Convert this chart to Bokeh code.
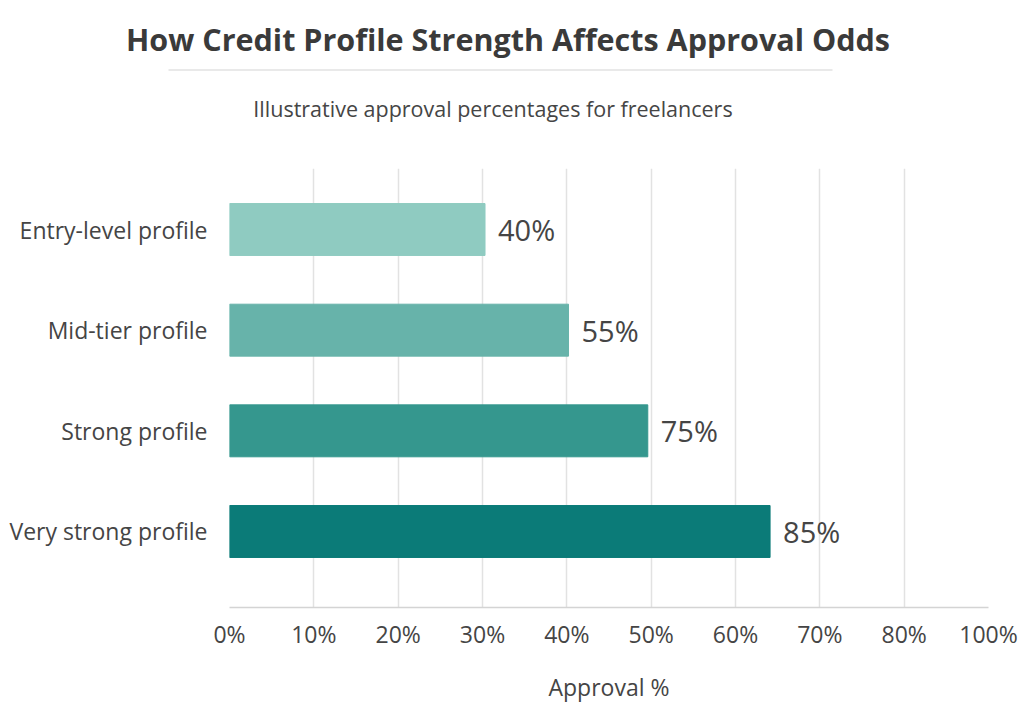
from bokeh.plotting import figure
from bokeh.layouts import column
from bokeh.models import Range1d, FixedTicker, ColumnDataSource
from bokeh.core.properties import value
from bokeh.embed import file_html
from bokeh.resources import INLINE

# ---- data ----
categories = ["Entry-level profile", "Mid-tier profile", "Strong profile", "Very strong profile"]
approval_labels = [40, 55, 75, 85]            # printed value labels (%)
bar_ends = [3.03, 4.02, 4.96, 6.41]           # where each bar ends, in axis-tick steps
tick_labels = ["0%", "10%", "20%", "30%", "40%", "50%", "60%", "70%", "80%", "100%"]
bar_colors = ["#8fcbc1", "#67b3aa", "#35978e", "#0b7b78"]

title_text = "How Credit Profile Strength Affects Approval Odds"
subtitle_text = "Illustrative approval percentages for freelancers"
x_label = "Approval %"

FONT = "Open Sans"
TXT = "#454545"

W, H = 1024, 705
FL, FR, FT, FB = 229, 988, 168, 607   # plot frame edges on the page
HH = 150                              # header height

# ---- header (title, rule, subtitle): a frame covering the whole strip, 1 unit = 1 px ----
header = figure(width=W, height=HH, x_range=Range1d(0, W), y_range=Range1d(HH, 0),
                x_axis_type=None, y_axis_type=None, toolbar_location=None,
                output_backend="svg", min_border=0, outline_line_color=None)
header.frame_align = False
header.grid.visible = False
header.text(x=[507.5], y=[38], text=[title_text], text_font=value(FONT),
            text_font_size="30.5px", text_font_style="bold", text_color="#3a3a3a",
            text_align="center", text_baseline="middle")
header.segment(x0=[168], y0=[69.5], x1=[832], y1=[69.5], line_color="#e2e2e2", line_width=1.5)
header.text(x=[492.5], y=[108], text=[subtitle_text], text_font=value(FONT),
            text_font_size="21.5px", text_color=TXT,
            text_align="center", text_baseline="middle")

# ---- chart ----
n = len(categories)
ypos = [n - 1 - i for i in range(n)]
src = ColumnDataSource(dict(
    y=ypos, right=bar_ends, color=bar_colors,
    label=[f"{v}%" for v in approval_labels], cat=categories,
))

p = figure(width=W, height=H - HH, x_range=Range1d(0, len(tick_labels) - 1),
           y_range=Range1d(-0.755, n - 1 + 0.606),
           toolbar_location=None, output_backend="svg",
           min_border_left=FL, min_border_right=W - FR,
           min_border_top=FT - HH, min_border_bottom=H - FB,
           outline_line_color=None)
p.frame_align = False

p.hbar(y="y", left=0, right="right", height=0.516, fill_color="color",
       line_color="color", source=src)
p.text(x="right", y="y", text="label", x_offset=13, text_font=value(FONT),
       text_font_size="29px", text_color=TXT, text_align="left",
       text_baseline="middle", source=src)

# x axis
p.xaxis.ticker = FixedTicker(ticks=list(range(len(tick_labels))))
p.xaxis.major_label_overrides = {i: t for i, t in enumerate(tick_labels)}
p.xaxis.axis_line_color = "#d4d4d4"
p.xaxis.axis_line_width = 1.5
p.xaxis.major_tick_line_color = None
p.xaxis.minor_tick_line_color = None
p.xaxis.major_label_text_font = FONT
p.xaxis.major_label_text_font_size = "23px"
p.xaxis.major_label_text_color = TXT
p.xaxis.major_label_standoff = 4
p.xaxis.axis_label = x_label
p.xaxis.axis_label_text_font = FONT
p.xaxis.axis_label_text_font_size = "23px"
p.xaxis.axis_label_text_font_style = "normal"
p.xaxis.axis_label_text_color = TXT
p.xaxis.axis_label_standoff = 18

# y axis
p.yaxis.ticker = FixedTicker(ticks=ypos)
p.yaxis.major_label_overrides = {y: c for y, c in zip(ypos, categories)}
p.yaxis.axis_line_color = None
p.yaxis.major_tick_line_color = None
p.yaxis.minor_tick_line_color = None
p.yaxis.major_label_text_font = FONT
p.yaxis.major_label_text_font_size = "23px"
p.yaxis.major_label_text_color = TXT
p.yaxis.major_label_standoff = 16

# grid
p.xgrid.grid_line_color = "#e2e2e2"
p.xgrid.grid_line_width = 1.5
p.ygrid.grid_line_color = None

layout = column(header, p, spacing=0)
open("out.html", "w").write(file_html(layout, INLINE))
